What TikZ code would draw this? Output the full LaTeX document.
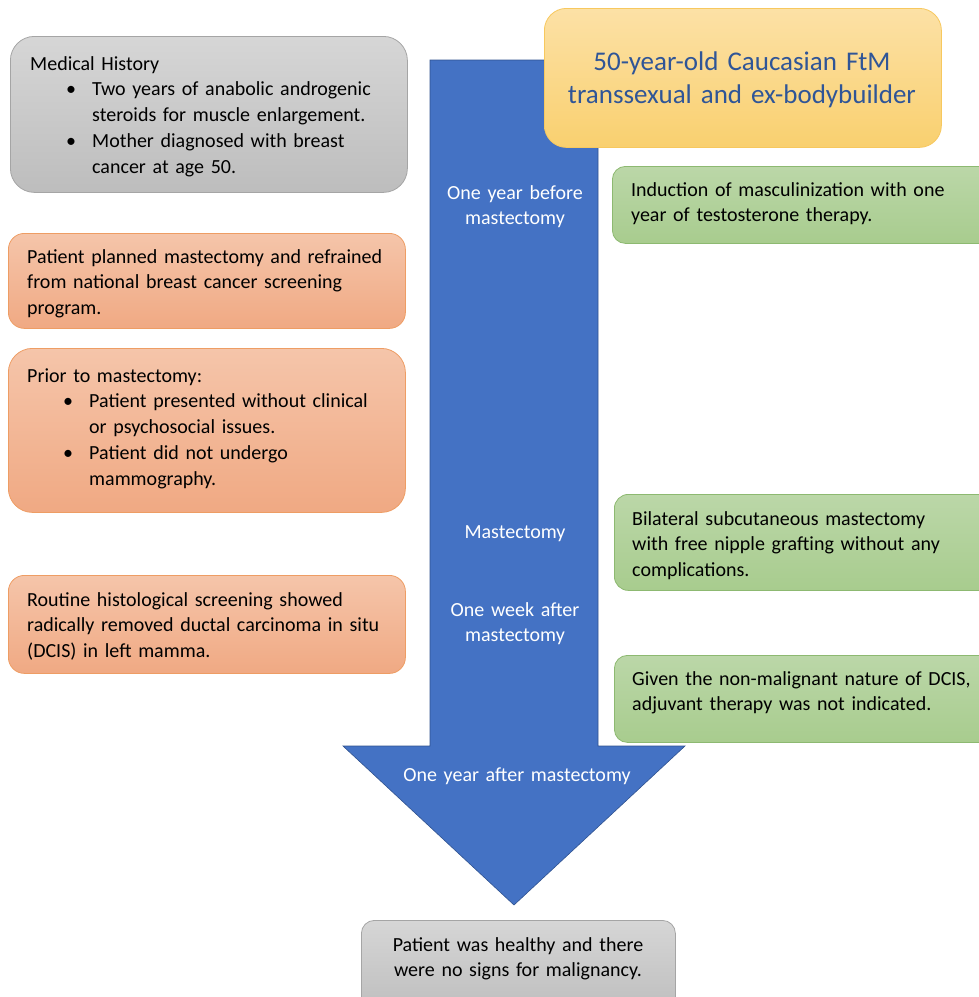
\documentclass[tikz,border=0pt]{standalone}
\usepackage{fontspec}
\setmainfont{Carlito}
\definecolor{arrowblue}{HTML}{4472C4}
\definecolor{arrowedge}{HTML}{2F528F}
\definecolor{graytop}{HTML}{D6D6D6}
\definecolor{graybot}{HTML}{BDBDBD}
\definecolor{grayedge}{HTML}{A5A5A5}
\definecolor{orgtop}{HTML}{F5C5AA}
\definecolor{orgbot}{HTML}{F0A983}
\definecolor{orgedge}{HTML}{EE9D64}
\definecolor{grntop}{HTML}{BBD7A8}
\definecolor{grnbot}{HTML}{A8CC8E}
\definecolor{grnedge}{HTML}{8DB971}
\definecolor{ylwtop}{HTML}{FCE1A6}
\definecolor{ylwbot}{HTML}{F9D06F}
\definecolor{ylwedge}{HTML}{F7C85E}
\definecolor{titleblue}{HTML}{2F5597}
\newcommand{\bul}{\par\noindent\hangindent=62pt\hspace*{36pt}\makebox[26pt][l]{\textbullet}}
\tikzset{
  boxbase/.style={rectangle, inner sep=0pt, line width=0.8pt},
  graybox/.style={boxbase, draw=grayedge, top color=graytop, bottom color=graybot},
  orgbox/.style={boxbase, draw=orgedge, top color=orgtop, bottom color=orgbot},
  grnbox/.style={boxbase, draw=grnedge, top color=grntop, bottom color=grnbot},
  ylwbox/.style={boxbase, draw=ylwedge, top color=ylwtop, bottom color=ylwbot},
  txt/.style={inner sep=0pt, anchor=base west, align=left, text width=400pt,
    font=\fontsize{20}{25.8}\selectfont},
  ctxt/.style={inner sep=0pt, anchor=base, align=center, text width=340pt,
    font=\fontsize{20}{25.8}\selectfont},
  wtxt/.style={ctxt, text=white},
  arrowshape/.style={fill=arrowblue, draw=arrowedge, line width=0.6pt, line join=miter}
}
\begin{document}
\begin{tikzpicture}[x=1pt,y=-1pt]
\useasboundingbox (0,0) rectangle (979,997);
% big arrow
\draw[arrowshape] (430,60) -- (598,60) -- (598,746) -- (685,746) -- (514,905)
  -- (343,746) -- (430,746) -- cycle;
% left column
\node[graybox, rounded corners=24pt, minimum width=397pt, minimum height=156pt, anchor=north west] (hist) at (10,36) {};
\node[txt] (histtxt) at (30,70) {Medical History\bul Two years of anabolic androgenic\newline steroids for muscle enlargement.\bul Mother diagnosed with breast\newline cancer at age 50.\par};
\node[orgbox, rounded corners=16pt, minimum width=397pt, minimum height=95pt, anchor=north west] (plan) at (8,233) {};
\node[txt] (plantxt) at (27,263) {Patient planned mastectomy and refrained\\from national breast cancer screening\\program.};
\node[orgbox, rounded corners=24pt, minimum width=397pt, minimum height=164pt, anchor=north west] (prior) at (8,348) {};
\node[txt] (priortxt) at (27,382) {Prior to mastectomy:\bul Patient presented without clinical\newline or psychosocial issues.\bul Patient did not undergo\newline mammography.\par};
\node[orgbox, rounded corners=16pt, minimum width=397pt, minimum height=98pt, anchor=north west] (histo) at (8,575) {};
\node[txt] (histotxt) at (27,606) {Routine histological screening showed\\radically removed ductal carcinoma in situ\\(DCIS) in left mamma.};
% title
\node[ylwbox, rounded corners=22pt, minimum width=397pt, minimum height=139pt, anchor=north west] (title) at (544,8) {};
\node[inner sep=0pt, anchor=base, align=center, text width=390pt, text=titleblue,
  font=\fontsize{27}{33}\selectfont] (titletxt) at (742,70) {50-year-old Caucasian FtM\\transsexual and ex-bodybuilder};
% right column
\node[grnbox, rounded corners=13pt, minimum width=400pt, minimum height=77pt, anchor=north west] (induct) at (612,166) {};
\node[txt] (inducttxt) at (631,196) {Induction of masculinization with one\\year of testosterone therapy.};
\node[grnbox, rounded corners=14pt, minimum width=400pt, minimum height=96pt, anchor=north west] (surg) at (614,494) {};
\node[txt] (surgtxt) at (632,525) {Bilateral subcutaneous mastectomy\\with free nipple grafting without any\\complications.};
\node[grnbox, rounded corners=13pt, minimum width=400pt, minimum height=87pt, anchor=north west] (adj) at (614,655) {};
\node[txt] (adjtxt) at (632,685) {Given the non-malignant nature of DCIS,\\adjuvant therapy was not indicated.};
% arrow labels
\node[wtxt] (t1) at (515,199) {One year before\\mastectomy};
\node[wtxt] (t2) at (515,538) {Mastectomy};
\node[wtxt] (t3) at (515,616) {One week after\\mastectomy};
\node[wtxt] (t4) at (517,781) {One year after mastectomy};
% outcome
\node[graybox, rounded corners=13pt, minimum width=314pt, minimum height=95pt, anchor=north west] (res) at (361,920) {};
\node[ctxt] (restxt) at (518,951) {Patient was healthy and there\\were no signs for malignancy.};
\end{tikzpicture}
\end{document}
